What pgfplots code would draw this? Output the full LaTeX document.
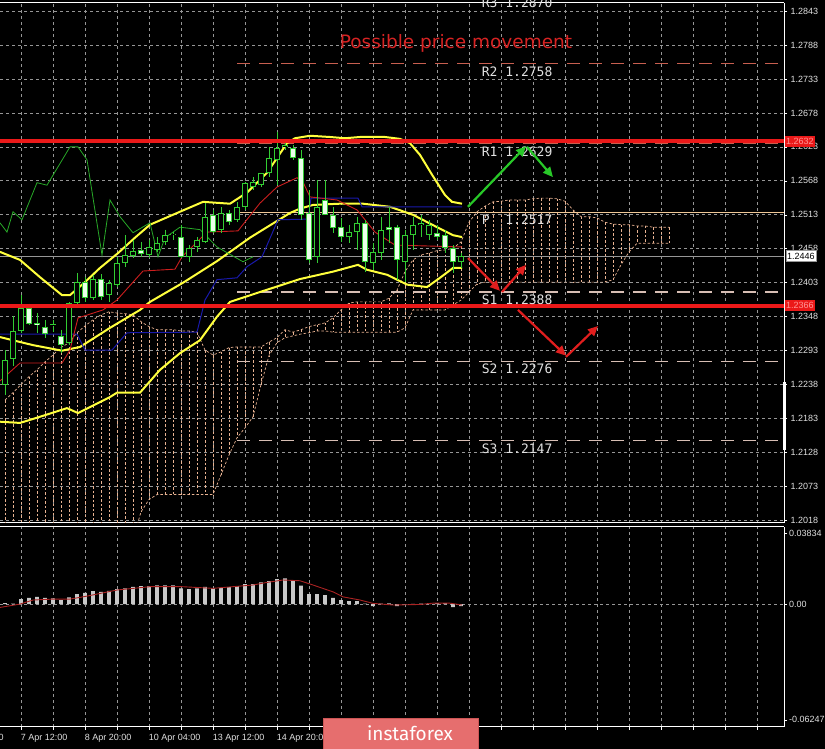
\documentclass[border=0pt]{standalone}
\usepackage{fontspec}
\setmainfont{DejaVu Sans}
\newfontfamily\tickfont{Liberation Sans}
\newfontfamily\pivfont{DejaVu Sans Mono}
\newfontfamily\logofont{Fira Sans}
\usepackage{pgfplots}
\usepackage{pgfplotstable}
\pgfplotsset{compat=1.18}
\usetikzlibrary{arrows.meta}

\definecolor{cgreen}{RGB}{50,205,50}
\definecolor{bearfill}{RGB}{235,255,235}
\definecolor{bbyellow}{RGB}{255,255,60}
\definecolor{tenkan}{RGB}{205,30,30}
\definecolor{kijun}{RGB}{25,25,170}
\definecolor{chikou}{RGB}{40,170,40}
\definecolor{cloudc}{RGB}{232,178,145}
\definecolor{gridc}{RGB}{150,150,150}
\definecolor{lvlred}{RGB}{235,25,25}
\definecolor{resc}{RGB}{200,95,80}
\definecolor{supc}{RGB}{215,190,180}
\definecolor{pivc}{RGB}{240,200,150}
\definecolor{labc}{RGB}{225,225,225}
\definecolor{arrgreen}{RGB}{40,200,40}
\definecolor{arrred}{RGB}{225,30,30}
\definecolor{histc}{RGB}{200,200,200}
\definecolor{sigc}{RGB}{170,35,35}
\definecolor{logoc}{RGB}{230,110,110}

% candles: x = bar position (px), o h l c = prices
\pgfplotstableread{
x o h l c
5 1.2238 1.2294 1.2221 1.2278
13 1.2280 1.2349 1.2268 1.2325
21 1.2325 1.2383 1.2322 1.2362
53 1.2335 1.2343 1.2323 1.2336
69 1.2306 1.2372 1.2302 1.2370
77 1.2370 1.2419 1.2364 1.2404
93 1.2378 1.2416 1.2375 1.2409
109 1.2383 1.2408 1.2372 1.2403
117 1.2400 1.2445 1.2396 1.2435
125 1.2435 1.2480 1.2429 1.2448
133 1.2446 1.2472 1.2443 1.2455
149 1.2448 1.2472 1.2443 1.2461
157 1.2456 1.2477 1.2453 1.2467
165 1.2469 1.2489 1.2464 1.2480
173 1.2480 1.2485 1.2472 1.2482
189 1.2445 1.2464 1.2437 1.2459
197 1.2461 1.2477 1.2453 1.2472
205 1.2469 1.2532 1.2467 1.2510
221 1.2489 1.2526 1.2484 1.2516
237 1.2505 1.2534 1.2501 1.2526
245 1.2526 1.2566 1.2521 1.2565
253 1.2558 1.2574 1.2553 1.2566
261 1.2561 1.2581 1.2558 1.2581
269 1.2581 1.2623 1.2574 1.2605
277 1.2602 1.2647 1.2561 1.2621
285 1.2623 1.2634 1.2618 1.2626
317 1.2445 1.2569 1.2435 1.2526
349 1.2477 1.2497 1.2467 1.2485
357 1.2485 1.2510 1.2456 1.2500
373 1.2435 1.2467 1.2424 1.2453
381 1.2451 1.2510 1.2440 1.2489
405 1.2437 1.2489 1.2404 1.2480
413 1.2480 1.2510 1.2456 1.2497
421 1.2497 1.2513 1.2477 1.2500
429 1.2480 1.2505 1.2472 1.2497
461 1.2437 1.2451 1.2427 1.2446
}\bull

\pgfplotstableread{
x o h l c
29 1.2362 1.2369 1.2335 1.2336
37 1.2338 1.2354 1.2322 1.2335
45 1.2332 1.2343 1.2314 1.2320
61 1.2317 1.2327 1.2289 1.2302
85 1.2404 1.2412 1.2372 1.2378
101 1.2409 1.2417 1.2375 1.2380
141 1.2456 1.2469 1.2445 1.2450
181 1.2477 1.2497 1.2443 1.2445
213 1.2513 1.2521 1.2484 1.2485
229 1.2516 1.2521 1.2497 1.2501
293 1.2621 1.2626 1.2602 1.2605
301 1.2605 1.2618 1.2505 1.2513
309 1.2516 1.2553 1.2435 1.2440
325 1.2537 1.2569 1.2513 1.2513
333 1.2513 1.2526 1.2484 1.2492
341 1.2493 1.2508 1.2469 1.2477
365 1.2500 1.2505 1.2421 1.2437
389 1.2493 1.2526 1.2467 1.2489
397 1.2493 1.2497 1.2408 1.2440
437 1.2484 1.2497 1.2472 1.2477
445 1.2480 1.2489 1.2451 1.2459
453 1.2459 1.2464 1.2419 1.2437
}\bear

% ichimoku cloud: t, b = the two senkou spans
\pgfplotstableread{
x t b
5 1.2213 1.1987
13 1.2225 1.1987
21 1.2238 1.1987
29 1.2251 1.1987
37 1.2262 1.1987
45 1.2275 1.1987
53 1.2286 1.1987
61 1.2298 1.1987
69 1.2306 1.1987
77 1.2322 1.1987
85 1.2333 1.1987
93 1.2343 1.1987
101 1.2351 1.1987
109 1.2356 1.1987
117 1.2354 1.1987
125 1.2353 1.1987
133 1.2351 1.1987
141 1.2340 1.2032
149 1.2332 1.2052
157 1.2327 1.2060
165 1.2327 1.2060
173 1.2327 1.2060
181 1.2325 1.2060
189 1.2325 1.2060
197 1.2323 1.2060
205 1.2294 1.2060
213 1.2286 1.2060
221 1.2291 1.2092
229 1.2298 1.2124
237 1.2299 1.2152
245 1.2299 1.2168
253 1.2299 1.2186
261 1.2299 1.2238
269 1.2307 1.2285
277 1.2314 1.2306
285 1.2327 1.2314
293 1.2323 1.2317
301 1.2327 1.2320
309 1.2332 1.2322
317 1.2335 1.2325
325 1.2338 1.2325
333 1.2346 1.2323
341 1.2359 1.2323
349 1.2370 1.2323
357 1.2372 1.2323
365 1.2372 1.2323
373 1.2372 1.2323
381 1.2372 1.2323
389 1.2378 1.2323
397 1.2391 1.2323
405 1.2421 1.2330
413 1.2440 1.2359
421 1.2448 1.2359
429 1.2451 1.2359
437 1.2455 1.2359
445 1.2456 1.2359
453 1.2459 1.2367
461 1.2469 1.2375
469 1.2501 1.2388
477 1.2518 1.2401
485 1.2527 1.2404
493 1.2534 1.2404
501 1.2535 1.2404
509 1.2537 1.2404
517 1.2537 1.2404
525 1.2537 1.2404
533 1.2539 1.2404
541 1.2540 1.2404
549 1.2540 1.2404
557 1.2539 1.2404
565 1.2535 1.2404
573 1.2521 1.2404
581 1.2510 1.2404
589 1.2510 1.2404
597 1.2508 1.2404
605 1.2501 1.2404
613 1.2498 1.2408
621 1.2497 1.2432
629 1.2497 1.2453
637 1.2495 1.2467
645 1.2495 1.2467
653 1.2493 1.2467
661 1.2493 1.2467
669 1.2493 1.2467
}\cloud

\pgfplotstableread{
x v
5 0.0005
13 0.0003
21 0.0027
29 0.0034
37 0.0039
45 0.0034
53 0.0031
61 0.0022
69 0.0036
77 0.0054
85 0.0061
93 0.0070
101 0.0066
109 0.0072
117 0.0081
125 0.0085
133 0.0093
141 0.0097
149 0.0097
157 0.0101
165 0.0101
173 0.0101
181 0.0085
189 0.0081
197 0.0085
205 0.0093
213 0.0085
221 0.0088
229 0.0092
237 0.0097
245 0.0108
253 0.0108
261 0.0117
269 0.0124
277 0.0135
285 0.0139
293 0.0124
301 0.0099
309 0.0054
317 0.0054
325 0.0049
333 0.0034
341 0.0022
349 0.0016
357 0.0016
365 0.0002
373 -0.0011
381 0.0002
389 0.0004
397 -0.0011
405 -0.0002
413 0.0001
421 0.0003
429 0.0005
437 0.0005
445 0.0005
453 -0.0016
461 -0.0011
}\macd

\pgfplotsset{
  panel/.style={
    scale only axis, width=784pt,
    xmin=0, xmax=784,
    scaled x ticks=false, scaled y ticks=false,
    axis x line*=box, axis y line*=right,
    axis line style={white, line width=1pt},
    xtick={21.7,53.7,85.7,117.7,149.7,181.7,213.7,245.7,277.7,309.7,341.7,373.7,405.7,437.7,469.7,501.7,533.7,565.7,597.7,629.7,661.7,693.7,725.7,757.7},
    tick align=outside, major tick length=3pt,
    tick style={white, line width=0.6pt},
    ticklabel style={font=\tickfont\fontsize{9}{10}\selectfont, text=labc},
    major grid style={gridc, dash pattern=on 3pt off 3pt, line width=0.7pt},
  },
}
\tikzset{
  hline/.style={line width=1.2pt, dash pattern=on 13pt off 9pt},
  piv/.style={anchor=west, text=labc, font=\pivfont\fontsize{13}{14}\selectfont, inner sep=0pt},
  arr/.style={line width=2.2pt, -{Triangle[length=10pt,width=9pt]}},
  hatch/.style={cloudc, line width=0.7pt, dash pattern=on 2.5pt off 2pt},
}

\begin{document}
\begin{tikzpicture}[x=1pt,y=1pt]
\fill[black] (0,0) rectangle (825,749);

\begin{axis}[panel,
  at={(0pt,226pt)}, anchor=south west, height=520pt,
  ymin=1.2014, ymax=1.2856,
  xticklabels={}, xtick style={draw=none},
  ytick={1.2018,1.2073,1.2128,1.2183,1.2238,1.2293,1.2348,1.2403,1.2458,1.2513,1.2568,1.2623,1.2678,1.2733,1.2788,1.2843},
  yticklabel style={/pgf/number format/fixed, /pgf/number format/fixed zerofill,
    /pgf/number format/precision=4, /pgf/number format/assume math mode=true},
  grid=major, clip mode=individual,
]
% cloud hatching
\addplot[hatch, quiver={u=0, v=\thisrow{b}-\thisrow{t}}] table[x=x, y=t] {\cloud};
\addplot[hatch] table[x=x, y=t] {\cloud};
\addplot[hatch] table[x=x, y=b] {\cloud};

% pivot levels
\addplot[resc, hline] coordinates {(237,1.2758) (784,1.2758)};
\addplot[resc, hline] coordinates {(237,1.2629) (784,1.2629)};
\addplot[pivc, line width=1pt] coordinates {(237,1.2517) (784,1.2517)};
\addplot[supc, hline] coordinates {(237,1.2388) (784,1.2388)};
\addplot[supc, hline] coordinates {(237,1.2276) (784,1.2276)};
\addplot[supc, hline] coordinates {(237,1.2147) (784,1.2147)};
\addplot[gridc, line width=1pt] coordinates {(0,1.2446) (784,1.2446)};

% bollinger bands
\addplot[bbyellow, line width=2pt] coordinates {(0,1.2453) (20,1.2440) (40,1.2412) (62,1.2383) (70,1.2383) (85,1.2404) (100,1.2427) (118,1.2451) (135,1.2476) (150,1.2497) (180,1.2518) (203,1.2534) (230,1.2531) (247,1.2549) (267,1.2581) (287,1.2629) (295,1.2637) (310,1.2641) (330,1.2639) (345,1.2637) (360,1.2639) (385,1.2639) (400,1.2636) (410,1.2629) (420,1.2610) (432,1.2578) (445,1.2545) (452,1.2534) (462,1.2531)};
\addplot[bbyellow, line width=2pt] coordinates {(0,1.2315) (33,1.2302) (62,1.2293) (80,1.2299) (110,1.2330) (140,1.2359) (150,1.2372) (183,1.2403) (217,1.2438) (250,1.2476) (277,1.2503) (290,1.2516) (300,1.2523) (313,1.2529) (340,1.2531) (363,1.2531) (390,1.2526) (413,1.2513) (437,1.2493) (453,1.2480) (462,1.2477)};
\addplot[bbyellow, line width=2pt] coordinates {(0,1.2178) (20,1.2176) (40,1.2186) (67,1.2200) (78,1.2192) (110,1.2218) (117,1.2225) (140,1.2225) (160,1.2262) (180,1.2289) (200,1.2310) (217,1.2348) (230,1.2372) (260,1.2388) (300,1.2409) (333,1.2421) (358,1.2432) (367,1.2424) (387,1.2416) (407,1.2400) (427,1.2396) (440,1.2411) (453,1.2427) (462,1.2427)};

% ichimoku lines
\addplot[kijun, line width=1pt] coordinates {(0,1.2320) (77,1.2320) (85,1.2294) (112,1.2294) (127,1.2322) (197,1.2323) (205,1.2375) (217,1.2408) (237,1.2411) (247,1.2429) (262,1.2445) (278,1.2505) (308,1.2506) (311,1.2540) (358,1.2540) (362,1.2526) (462,1.2526)};
\addplot[tenkan, line width=0.9pt] coordinates {(0,1.2244) (20,1.2273) (62,1.2273) (70,1.2294) (78,1.2346) (103,1.2359) (117,1.2375) (143,1.2422) (175,1.2425) (182,1.2445) (207,1.2485) (238,1.2487) (260,1.2532) (277,1.2558) (297,1.2573) (303,1.2566) (310,1.2542) (337,1.2537) (357,1.2521) (375,1.2485) (395,1.2464) (462,1.2461)};
\addplot[chikou, line width=0.8pt] coordinates {(0,1.2500) (7,1.2485) (13,1.2518) (22,1.2505) (37,1.2565) (47,1.2561) (70,1.2623) (78,1.2623) (87,1.2602) (102,1.2448) (110,1.2537) (120,1.2510) (133,1.2484) (150,1.2500) (158,1.2445) (165,1.2476) (180,1.2493) (200,1.2489) (217,1.2461) (243,1.2437) (253,1.2445)};

% candles: wicks, then bodies
\addplot[cgreen, line width=1pt, quiver={u=0, v=\thisrow{l}-\thisrow{h}}] table[x=x, y=h] {\bull};
\addplot[cgreen, line width=1pt, quiver={u=0, v=\thisrow{l}-\thisrow{h}}] table[x=x, y=h] {\bear};
\addplot[cgreen, line width=5.4pt, quiver={u=0, v=\thisrow{c}-\thisrow{o}}] table[x=x, y=o] {\bull};
\addplot[black, line width=3.6pt, shorten >=0.9pt, shorten <=0.9pt, quiver={u=0, v=\thisrow{c}-\thisrow{o}}] table[x=x, y=o] {\bull};
\addplot[cgreen, line width=5.4pt, quiver={u=0, v=\thisrow{c}-\thisrow{o}}] table[x=x, y=o] {\bear};
\addplot[bearfill, line width=3.6pt, shorten >=0.9pt, shorten <=0.9pt, quiver={u=0, v=\thisrow{c}-\thisrow{o}}] table[x=x, y=o] {\bear};

% key levels
\addplot[lvlred, line width=4pt] coordinates {(0,1.2632) (784,1.2632)};
\addplot[lvlred, line width=4pt] coordinates {(0,1.2366) (784,1.2366)};

% labels
\node[text={rgb,255:red,215;green,35;blue,35}, font=\fontsize{18.5}{20}\selectfont, anchor=base] at (axis cs:456,1.2783) {Possible price movement};
\node[piv] at (axis cs:481.7,1.2857) {R3 1.2870};
\node[piv] at (axis cs:481.7,1.2744) {R2 1.2758};
\node[piv] at (axis cs:481.7,1.2615) {R1 1.2629};
\node[piv] at (axis cs:481.7,1.2505) {P\ \ 1.2517};
\node[piv] at (axis cs:481.7,1.2375) {S1 1.2388};
\node[piv] at (axis cs:481.7,1.2264) {S2 1.2276};
\node[piv] at (axis cs:481.7,1.2134) {S3 1.2147};

% scenario arrows
\addplot[arrgreen, arr] coordinates {(468,1.2526) (526,1.2624)};
\addplot[arrgreen, arr] coordinates {(527,1.2623) (553,1.2574)};
\addplot[arrred, arr] coordinates {(468,1.2443) (500,1.2390)};
\addplot[arrred, arr] coordinates {(502,1.2388) (526,1.2432)};
\addplot[arrred, arr] coordinates {(518,1.2359) (566,1.2285)};
\addplot[arrred, arr] coordinates {(566,1.2283) (598,1.2333)};
\end{axis}

\begin{axis}[panel,
  at={(0pt,22pt)}, anchor=south west, height=200pt,
  ymin=-0.0663, ymax=0.0416,
  xmajorgrids, xtick pos=bottom,
  xticklabels={7 Apr 12:00,,8 Apr 20:00,,10 Apr 04:00,,13 Apr 12:00,,14 Apr 20:00,,16 Apr 04:00,,17 Apr 12:00},
  xticklabel style={anchor=west, inner sep=0pt, xshift=-1pt, yshift=-8pt},
  ytick={-0.06247,0.03834}, yticklabels={-0.06247,0.03834},
  yticklabel style={xshift=-1.5pt},
  extra y ticks={0}, extra y tick labels={0.00},
  extra y tick style={grid=major},
]
\addplot[ybar, bar width=3.6pt, bar shift=0pt, fill=histc, draw=none] table[x=x, y=v] {\macd};
\addplot[sigc, line width=0.9pt] coordinates {(0,-0.0018) (20,0) (33,0.0022) (53,0.0027) (70,0.0027) (87,0.0043) (117,0.0076) (150,0.0094) (182,0.0094) (213,0.0085) (233,0.0094) (253,0.0103) (267,0.0117) (283,0.0130) (300,0.0126) (313,0.0103) (333,0.0066) (343,0.0039) (360,0.0022) (373,0.0004) (393,-0.0005) (420,-0.0002) (433,0.0005) (450,0.0005) (462,-0.0005)};
\end{axis}

% price boxes on the scale
\node[fill=lvlred, text={rgb,255:red,255;green,150;blue,150}, font=\tickfont\fontsize{9}{10}\selectfont, inner sep=1pt, anchor=west, minimum height=11pt] at (785,607.5) {1.2632};
\node[fill=lvlred, text={rgb,255:red,255;green,150;blue,150}, font=\tickfont\fontsize{9}{10}\selectfont, inner sep=1pt, anchor=west, minimum height=11pt] at (785,443.3) {1.2366};
\node[fill=white, draw=gridc, text=black, font=\tickfont\fontsize{9}{10}\selectfont, inner sep=1pt, anchor=west, minimum height=11pt] at (786,493) {1.2446};
\fill[white] (782.5,299) rectangle (785.5,367);
\node[anchor=west, inner sep=0pt, text=labc, font=\tickfont\fontsize{9}{10}\selectfont] at (-43,11) {6 Apr 04:00};

% logo
\fill[logoc, draw={rgb,255:red,205;green,85;blue,85}] (323,-2) rectangle (478,31);
\node[text=white, font=\logofont\fontsize{19}{20}\selectfont] at (410,16) {instaforex};

\pgfresetboundingbox
\path[use as bounding box] (0,0) rectangle (825,749);
\end{tikzpicture}
\end{document}
